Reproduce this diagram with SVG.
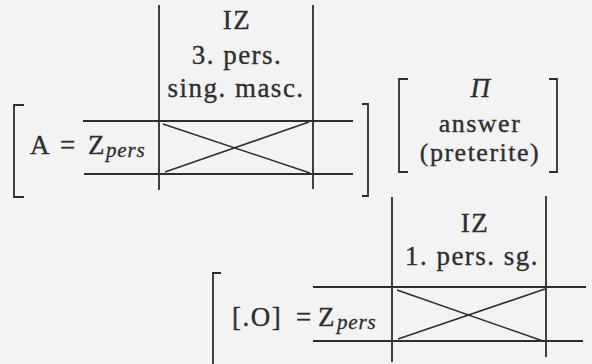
<svg xmlns="http://www.w3.org/2000/svg" width="592" height="364" viewBox="0 0 592 364">
<style>
.t{font-family:"Liberation Serif","Times New Roman",serif;font-size:27px;fill:#2e2e2e;stroke:#2e2e2e;stroke-width:0.35;letter-spacing:1.5px}
.c{text-anchor:middle}
.a{font-size:26px}
.s{font-family:"Liberation Serif","Times New Roman",serif;font-style:italic;font-size:21px;fill:#2e2e2e;stroke:#2e2e2e;stroke-width:0.3;letter-spacing:0.8px}
.l{stroke:#2e2e2e;stroke-width:1.8;fill:none}
.x{stroke:#2e2e2e;stroke-width:1.5;fill:none}
</style>
<rect width="592" height="364" fill="#f3f3f3"/>
<g id="top-frame">
  <path class="l" d="M24 105H14V197H24"/>
  <path class="l" d="M362 104H368V196H362"/>
  <text class="t" x="30" y="154">A</text>
  <text class="t" x="60" y="154">=</text>
  <text class="t" x="88" y="154">Z</text>
  <text class="s" x="106" y="157">pers</text>
  <text class="t c" x="237" y="29">IZ</text>
  <text class="t c" x="237" y="64">3. pers.</text>
  <text class="t c" x="236" y="97">sing. masc.</text>
</g>
<g id="answer-bracket">
  <path class="l" d="M408 79H399V172H408"/>
  <path class="l" d="M549 79H557V172H549"/>
  <text class="t c" x="481" y="97" font-style="italic">Π</text>
  <text class="t c a" x="480" y="132">answer</text>
  <text class="t c a" x="480" y="161">(preterite)</text>
</g>
<g id="bottom-frame">
  <path class="l" d="M221 273H213V364"/>
  <text class="t" x="232" y="326">[.O]</text>
  <text class="t" x="296" y="326">=</text>
  <text class="t" x="318" y="326">Z</text>
  <text class="s" x="337" y="329">pers</text>
  <text class="t c" x="475" y="232">IZ</text>
  <text class="t c" x="472" y="265">1. pers. sg.</text>
</g>
<g id="connectors">
  <path class="l" d="M159 5V190M313 5V189M83 121H353M84 174H353"/>
  <path class="x" d="M163 124L310 173M165 172L309 122"/>
  <path class="l" d="M392 197V362M546 196V357M313 287H586M313 341H583"/>
  <path class="x" d="M397 290L543 341M398 339L545 289"/>
</g>
</svg>
